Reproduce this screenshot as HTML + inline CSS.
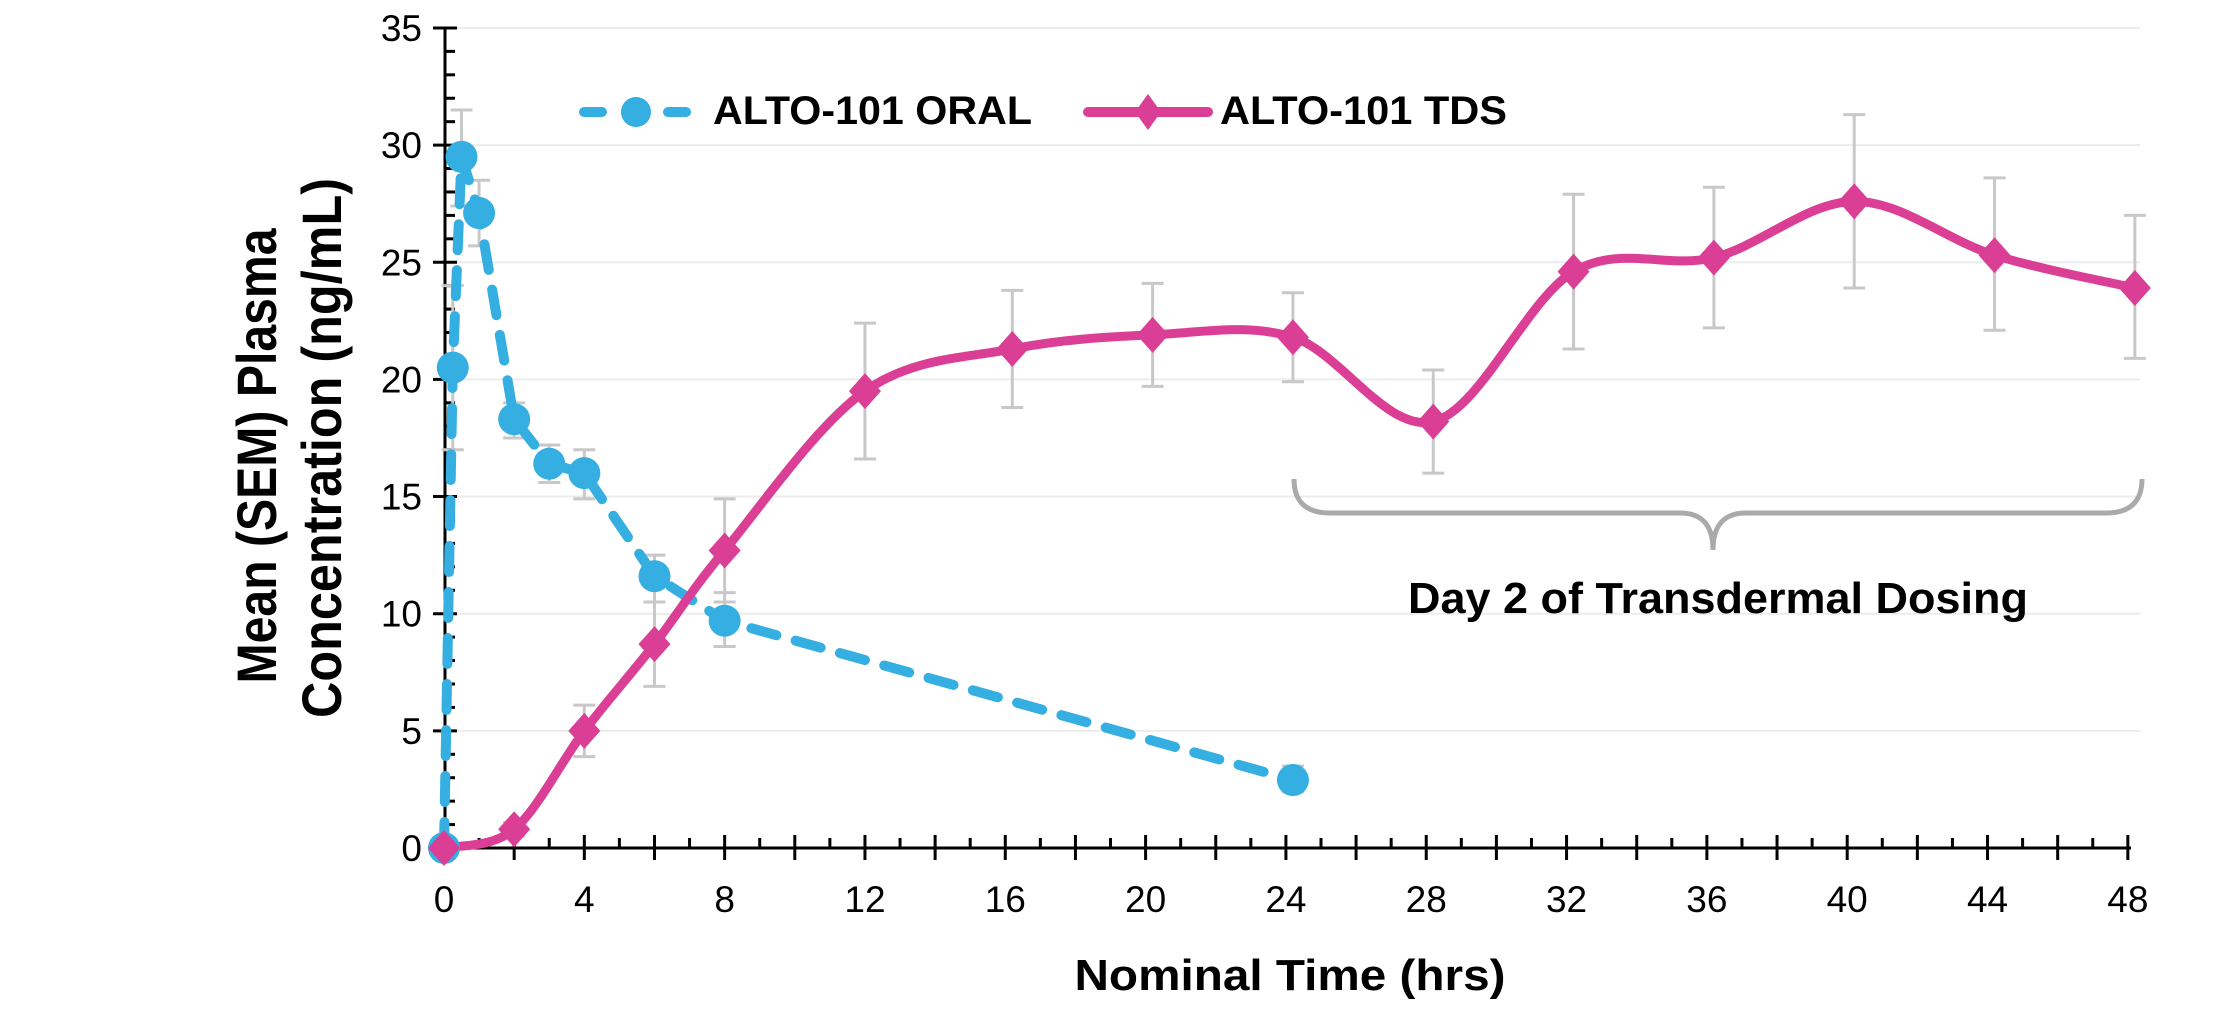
<!DOCTYPE html>
<html><head><meta charset="utf-8"><style>
html,body{margin:0;padding:0;background:#fff;}
svg{display:block;font-family:"Liberation Sans",Arial,sans-serif;}
</style></head><body>
<svg id="chart" width="2213" height="1031" viewBox="0 0 2213 1031" xmlns="http://www.w3.org/2000/svg">
<g id="grid"></g>
<g id="axes"></g>
<g id="bracket">
<path d="M1294 479 Q1294 513 1330 513 L1680 513 Q1713 513 1713 550 Q1713 513 1746 513 L2106 513 Q2142 513 2142 479" fill="none" stroke="#aaaaaa" stroke-width="5"/>
</g>
<text x="1408" y="613" font-size="44" font-weight="bold" textLength="620" lengthAdjust="spacingAndGlyphs">Day 2 of Transdermal Dosing</text>
<g id="series"></g>
<g>
<g>
<line x1="584" y1="112" x2="690" y2="112" stroke="#35AEE2" stroke-width="10" stroke-linecap="round" stroke-dasharray="18 24"/>
<circle cx="636" cy="112" r="15" fill="#35AEE2"/>
<text x="713" y="124" font-size="40" font-weight="bold" textLength="319" lengthAdjust="spacingAndGlyphs">ALTO-101 ORAL</text>
</g>
<g>
<line x1="1088" y1="112" x2="1208" y2="112" stroke="#DB3F95" stroke-width="10" stroke-linecap="round"/>
<polygon points="1148,94 1161,112 1148,130 1135,112" fill="#DB3F95"/>
<text x="1220" y="124" font-size="40" font-weight="bold" textLength="287" lengthAdjust="spacingAndGlyphs">ALTO-101 TDS</text>
</g>
</g>
<text transform="translate(276,456) rotate(-90)" text-anchor="middle" font-size="56" font-weight="bold" textLength="455" lengthAdjust="spacingAndGlyphs">Mean (SEM) Plasma</text>
<text transform="translate(341,448) rotate(-90)" text-anchor="middle" font-size="56" font-weight="bold" textLength="540" lengthAdjust="spacingAndGlyphs">Concentration (ng/mL)</text>
<text x="1290" y="990" text-anchor="middle" font-size="44" font-weight="bold" textLength="431" lengthAdjust="spacingAndGlyphs">Nominal Time (hrs)</text>
</svg>
<script>
var oralTimes=[0,0.25,0.5,1,2,3,4,6,8,24.2];
var oralValues=[0,20.5,29.5,27.1,18.3,16.4,16.0,11.6,9.7,2.9];
var oralLow=[0,17.0,27.4,25.7,17.5,15.6,14.9,10.5,8.6,2.4];
var oralHigh=[0,24.0,31.5,28.5,19.0,17.2,17.0,12.5,10.9,3.5];
var tdsTimes=[0,2,4,6,8,12,16.2,20.2,24.2,28.2,32.2,36.2,40.2,44.2,48.2];
var tdsValues=[0,0.8,5.0,8.7,12.7,19.5,21.3,21.9,21.8,18.2,24.6,25.2,27.6,25.3,23.9];
var tdsLow=[0,0.5,3.9,6.9,10.5,16.6,18.8,19.7,19.9,16.0,21.3,22.2,23.9,22.1,20.9];
var tdsHigh=[0,1.1,6.1,10.5,14.9,22.4,23.8,24.1,23.7,20.4,27.9,28.2,31.3,28.6,27.0];
var xTicks=[0,4,8,12,16,20,24,28,32,36,40,44,48];
var yTicks=[0,5,10,15,20,25,30,35];

var NS="http://www.w3.org/2000/svg";
function X(t){return 444+t*35.08;}
function Y(v){return 848-v*23.43;}
function mk(tag,attrs,parent){var e=document.createElementNS(NS,tag);for(var k in attrs)e.setAttribute(k,attrs[k]);parent.appendChild(e);return e;}
var grid=document.getElementById('grid'),axes=document.getElementById('axes'),series=document.getElementById('series');
yTicks.forEach(function(v){
  if(v>0){var g=mk('line',{x1:446,x2:2140,y1:Y(v),y2:Y(v),stroke:'#ececec','stroke-width':2},grid);
  
  }
  var t=mk('text',{x:422,y:Y(v)+13,'text-anchor':'end','font-size':37},axes);t.textContent=v;
  
  
  mk('line',{x1:433,x2:457,y1:Y(v),y2:Y(v),stroke:'#000','stroke-width':3},axes);
});
for(var i=0;i<35;i++){if(i%5)mk('line',{x1:445,x2:455,y1:Y(i),y2:Y(i),stroke:'#000','stroke-width':3},axes);}
for(var h=0;h<=48;h++){
  if(h%2==0)mk('line',{x1:X(h),x2:X(h),y1:835,y2:860,stroke:'#000','stroke-width':3},axes);
  else mk('line',{x1:X(h),x2:X(h),y1:838,y2:848,stroke:'#000','stroke-width':3},axes);
}
xTicks.forEach(function(t){var e=mk('text',{x:X(t),y:912,'text-anchor':'middle','font-size':37},axes);e.textContent=t;
  
  });
var ya=mk('line',{x1:445,x2:445,y1:29,y2:849,stroke:'#000','stroke-width':3},axes);


var xa=mk('line',{x1:444,x2:2131,y1:848,y2:848,stroke:'#000','stroke-width':3},axes);



function errBars(ts,lo,hi,name){
  for(var i=0;i<ts.length;i++){if(hi[i]-lo[i]<=0)continue;
    var g=mk('g',{stroke:'#c8c8c8','stroke-width':3},series);
    
    
    var x=X(ts[i]);
    mk('line',{x1:x,x2:x,y1:Y(lo[i]),y2:Y(hi[i])},g);
    mk('line',{x1:x-11,x2:x+11,y1:Y(lo[i]),y2:Y(lo[i])},g);
    mk('line',{x1:x-11,x2:x+11,y1:Y(hi[i]),y2:Y(hi[i])},g);}
}
errBars(oralTimes,oralLow,oralHigh,'oral');
errBars(tdsTimes,tdsLow,tdsHigh,'tds');

var pts=tdsTimes.map(function(t,i){return [X(t),Y(tdsValues[i])];});
var d='M'+pts[0][0]+' '+pts[0][1];
for(var i=0;i<pts.length-1;i++){
  var p0=pts[Math.max(0,i-1)],p1=pts[i],p2=pts[i+1],p3=pts[Math.min(pts.length-1,i+2)];
  var c1x=p1[0]+(p2[0]-p0[0])/6,c1y=p1[1]+(p2[1]-p0[1])/6,c2x=p2[0]-(p3[0]-p1[0])/6,c2y=p2[1]-(p3[1]-p1[1])/6;
  d+=' C'+c1x+' '+c1y+' '+c2x+' '+c2y+' '+p2[0]+' '+p2[1];
}
var oralPath='M'+oralTimes.map(function(t,i){return X(t)+' '+Y(oralValues[i]);}).join(' L');
var op=mk('path',{d:oralPath,fill:'none',stroke:'#35AEE2','stroke-width':10,'stroke-linecap':'round','stroke-dasharray':'26 20'},series);


var tp=mk('path',{d:d,fill:'none',stroke:'#DB3F95','stroke-width':9,'stroke-linejoin':'round'},series);


oralTimes.forEach(function(t,i){var c=mk('circle',{cx:X(t),cy:Y(oralValues[i]),r:16,fill:'#35AEE2'},series);
  
  });
tdsTimes.forEach(function(t,i){var x=X(t),y=Y(tdsValues[i]);
  var p=mk('polygon',{points:(x)+','+(y-18)+' '+(x+16)+','+y+' '+x+','+(y+18)+' '+(x-16)+','+y,fill:'#DB3F95'},series);
  
  });
</script>
</body></html>
